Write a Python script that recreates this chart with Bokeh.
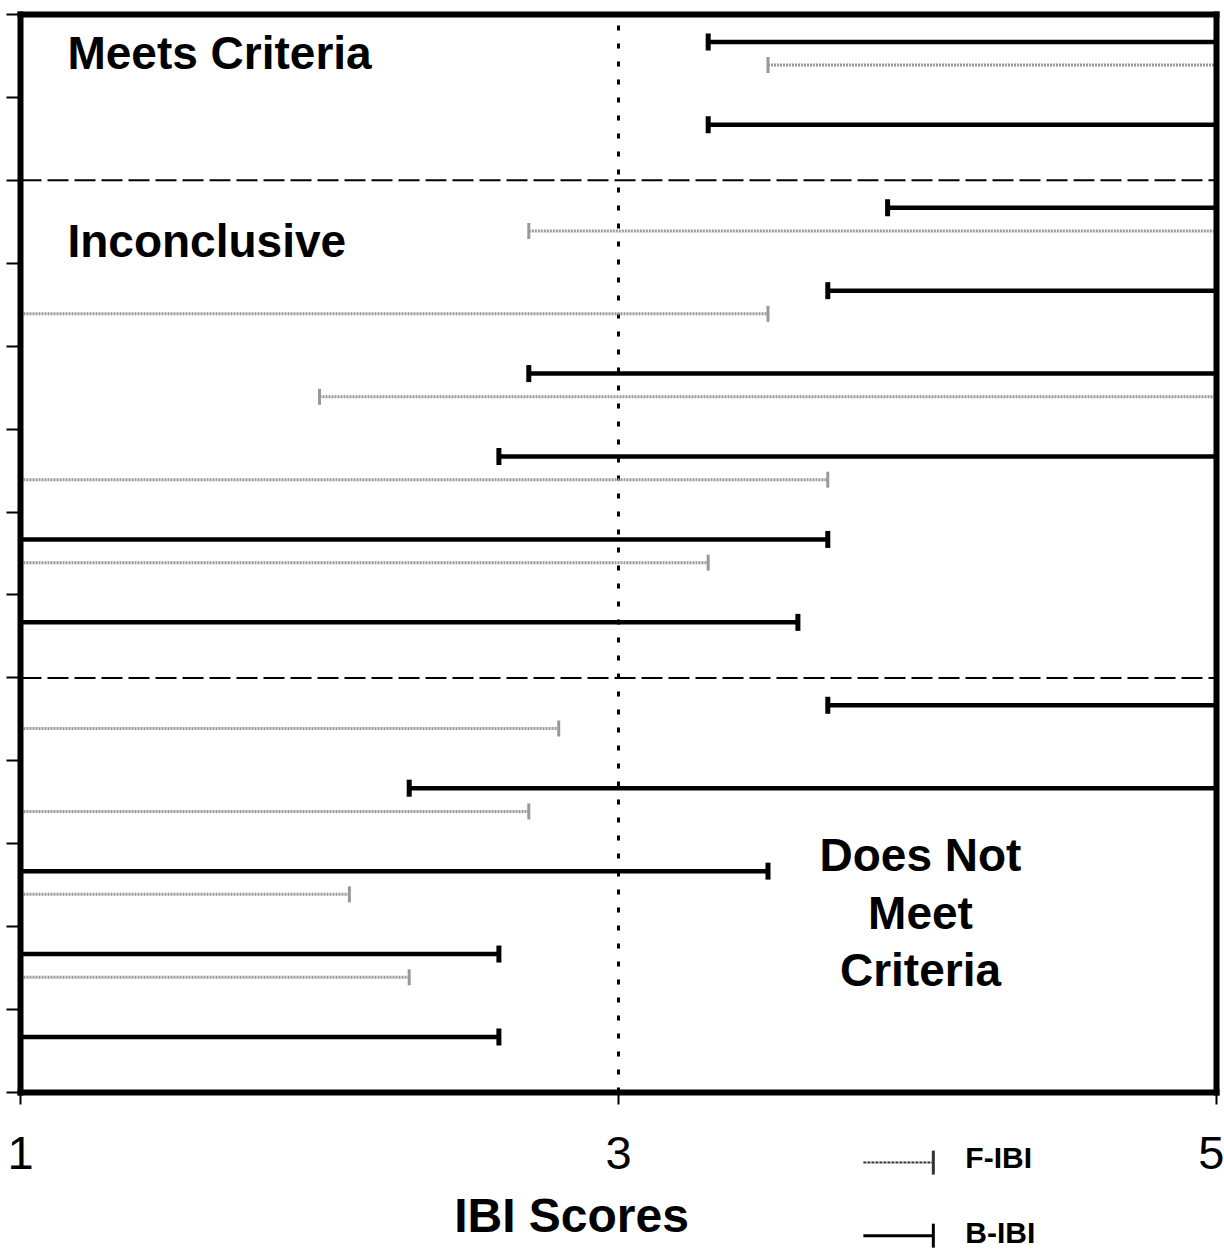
import math
from bokeh.plotting import figure
from bokeh.models import Range1d, FixedTicker, LinearAxis, ColumnDataSource
from bokeh.embed import file_html
from bokeh.resources import INLINE
from bokeh.core.properties import value

# ---- data ----
sites = list(range(1, 14))          # sites, top to bottom
bibi_low  = [3.3, 3.3, 3.9, 3.7, 2.7, 2.6, 1.0, 1.0, 3.7, 2.3, 1.0, 1.0, 1.0]
bibi_high = [5.0, 5.0, 5.0, 5.0, 5.0, 5.0, 3.7, 3.6, 5.0, 5.0, 3.5, 2.6, 2.6]
fibi_low  = [3.5, None, 2.7, 1.0, 2.0, 1.0, 1.0, None, 1.0, 1.0, 1.0, 1.0, None]
fibi_high = [5.0, None, 5.0, 3.5, 5.0, 3.7, 3.3, None, 2.8, 2.7, 2.1, 2.3, None]
x_ticks = [1, 3, 5]
threshold = [3]
group_breaks = [2, 8]               # horizontal dashed lines after these sites
region_labels = ["Meets Criteria", "Inconclusive"]
dnm_label = ["Does Not", "Meet", "Criteria"]
x_title = "IBI Scores"
legend_names = ["F-IBI", "B-IBI"]

n = len(sites)
FONT = "Liberation Sans"
X0, X1 = 1, 5
# view window: a little room around the box (left ticks, labels, title, legend)
XV0, XV1 = 0.9331, 5.0268
YV0, YV1 = -1.917, n + 0.169

p = figure(width=1224, height=1251, output_backend="svg", toolbar_location=None,
           x_range=Range1d(XV0, XV1), y_range=Range1d(YV0, YV1),
           min_border_left=0, min_border_right=0, min_border_top=0, min_border_bottom=0)
p.background_fill_color = "white"
p.border_fill_color = "white"
p.outline_line_color = None
p.xgrid.visible = False
p.ygrid.visible = False

# bottom axis, pinned at y = 0
xa = p.xaxis[0]
xa.fixed_location = 0
xa.bounds = (X0, X1)
xa.ticker = FixedTicker(ticks=x_ticks)
xa.axis_line_width = 6
xa.axis_line_cap = "square"
xa.major_tick_out = 12
xa.major_tick_in = 0
xa.major_tick_line_width = 2
xa.minor_tick_line_color = None
xa.major_label_text_font = FONT
xa.major_label_text_font_size = "47px"
xa.major_label_text_color = "black"
xa.major_label_standoff = 32

# left axis pinned at x = 1: ticks only
ya = p.yaxis[0]
ya.fixed_location = X0
ya.bounds = (0, n)
ya.ticker = FixedTicker(ticks=list(range(n + 1)))
ya.axis_line_width = 6
ya.axis_line_cap = "square"
ya.major_tick_out = 14
ya.major_tick_in = 0
ya.major_tick_line_width = 2
ya.minor_tick_line_color = None
ya.major_label_overrides = {i: "" for i in range(n + 1)}
ya.major_label_standoff = 0

# top and right borders of the box
top_ax = LinearAxis(fixed_location=n, bounds=(X0, X1), ticker=FixedTicker(ticks=[]),
                    axis_line_width=6, axis_line_cap="square",
                    major_tick_line_color=None, minor_tick_line_color=None)
right_ax = LinearAxis(fixed_location=X1, bounds=(0, n), ticker=FixedTicker(ticks=[]),
                      axis_line_width=6, axis_line_cap="square",
                      major_tick_line_color=None, minor_tick_line_color=None)
p.add_layout(top_ax, "above")
p.add_layout(right_ax, "right")

# reference lines
p.segment(x0=threshold, x1=threshold, y0=[0], y1=[n], line_color="black",
          line_width=3, line_dash="5 13")
gy = [n - g for g in group_breaks]
p.segment(x0=[X0] * len(gy), x1=[X1] * len(gy), y0=gy, y1=gy, line_color="black",
          line_width=2, line_dash="21 6")

# B-IBI bars
by = [n - (s - 1) - 0.33 for s in sites]
b_src = ColumnDataSource(dict(y=by, lo=bibi_low, hi=bibi_high))
p.segment(x0="lo", x1="hi", y0="y", y1="y", source=b_src, line_color="black", line_width=4.5)
p.dash(x="lo", y="y", source=b_src, angle=math.pi / 2, size=17, line_color="black", line_width=5)
p.dash(x="hi", y="y", source=b_src, angle=math.pi / 2, size=17, line_color="black", line_width=5)

# F-IBI bars
fy, flo, fhi = [], [], []
for s, lo, hi in zip(sites, fibi_low, fibi_high):
    if lo is None:
        continue
    fy.append(n - (s - 1) - 0.61)
    flo.append(lo)
    fhi.append(hi)
f_src = ColumnDataSource(dict(y=fy, lo=flo, hi=fhi))
GRAY = "#999999"
p.segment(x0="lo", x1="hi", y0="y", y1="y", source=f_src, line_color=GRAY, line_width=3, line_dash="2 1")
p.dash(x="lo", y="y", source=f_src, angle=math.pi / 2, size=16, line_color=GRAY, line_width=3)
p.dash(x="hi", y="y", source=f_src, angle=math.pi / 2, size=16, line_color=GRAY, line_width=3)

# region labels
p.text(x=[1.157, 1.157], y=[12.54, 10.27], text=region_labels,
       text_font=value(FONT), text_font_style="bold", text_font_size="46px",
       text_color="black", text_baseline="alphabetic", text_align="left")
p.text(x=[4.01] * 3, y=[2.86, 2.17, 1.48], text=dnm_label,
       text_font=value(FONT), text_font_style="bold", text_font_size="46px",
       text_color="black", text_baseline="alphabetic", text_align="center")

# x-axis title
p.text(x=[2.843], y=[-1.48], text=[x_title], text_font=value(FONT), text_font_style="bold",
       text_font_size="48px", text_color="black", text_baseline="alphabetic", text_align="center")

# legend (under the box, right side)
leg_y = [-0.845, -1.726]
leg_x0, leg_x1 = 3.819, 4.053
p.segment(x0=[leg_x0], x1=[leg_x1], y0=[leg_y[0]], y1=[leg_y[0]], line_color="#333333",
          line_width=2, line_dash="3 1")
p.dash(x=[leg_x1], y=[leg_y[0]], angle=math.pi / 2, size=24, line_color="#333333", line_width=3)
p.segment(x0=[leg_x0], x1=[leg_x1], y0=[leg_y[1]], y1=[leg_y[1]], line_color="black", line_width=3)
p.dash(x=[leg_x1], y=[leg_y[1]], angle=math.pi / 2, size=24, line_color="black", line_width=3)
p.text(x=[4.16, 4.16], y=[-0.78, -1.69], text=legend_names, text_font=value(FONT),
       text_font_style="bold", text_font_size="30px", text_color="black",
       text_baseline="alphabetic", text_align="left")

open("out.html", "w").write(file_html(p, INLINE))
